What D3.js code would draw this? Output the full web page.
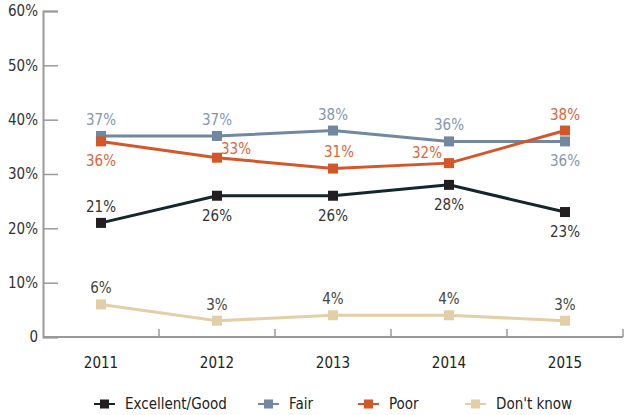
<!DOCTYPE html>
<html>
<head>
<meta charset="utf-8">
<script src="https://cdn.jsdelivr.net/npm/d3@7"></script>
<style>
  body { margin: 0; background: #fff; }
  svg text { font-family: "DejaVu Sans Condensed", "DejaVu Sans", sans-serif; font-stretch: condensed; }
</style>
</head>
<body>
<div id="chart"></div>
<script>
const years = ["2011", "2012", "2013", "2014", "2015"];
const seriesNames = ["Excellent/Good", "Fair", "Poor", "Don't know"];
const excellentGood = [21, 26, 26, 28, 23];
const fair = [37, 37, 38, 36, 36];
const poor = [36, 33, 31, 32, 38];
const dontKnow = [6, 3, 4, 4, 3];
const yTicks = [0, 10, 20, 30, 40, 50, 60];

// where each value label sits relative to its marker
const labelPlacement = {
    "Excellent/Good": ["above", "below", "below", "below", "below"],
    "Fair": ["above", "above", "above", "above", "below"],
    "Poor": ["below", "right", "aboveRight", "left", "above"],
    "Don't know": ["above", "above", "above", "above", "above"]
};

const seriesValues = [excellentGood, fair, poor, dontKnow];
const lineColors = ["#13262e", "#7188a0", "#d4572a", "#e3cfa7"];
const markerColors = ["#231f20", "#7188a0", "#d4572a", "#e3cfa7"];
const labelColors = ["#333333", "#8398ae", "#d9663c", "#444444"];

const width = 631, height = 415;
const margin = { top: 11, right: 8, bottom: 78, left: 43 };

const svg = d3.select("#chart").append("svg")
    .attr("width", width)
    .attr("height", height);

const x = d3.scaleBand()
    .domain(years)
    .range([margin.left, width - margin.right]);

const y = d3.scaleLinear()
    .domain([0, 60])
    .range([height - margin.bottom, margin.top]);

// y axis: ticks point inward
const yAxis = svg.append("g")
    .attr("transform", `translate(${margin.left},0)`)
    .call(d3.axisRight(y).tickValues(yTicks).tickSize(15).tickFormat(d => d === 0 ? "0" : d + "%"));
yAxis.select(".domain").attr("stroke", "#999").attr("stroke-width", 2);
yAxis.selectAll(".tick line").attr("stroke", "#999").attr("stroke-width", 1.5);
yAxis.selectAll(".tick text")
    .attr("x", -5)
    .attr("text-anchor", "end")
    .attr("fill", "#333")
    .style("font-size", "15px");

// x axis: ticks on band boundaries
const xAxisY = height - margin.bottom;
const xg = svg.append("g").attr("transform", `translate(0,${xAxisY})`);
xg.append("line")
    .attr("x1", margin.left).attr("x2", width - margin.right)
    .attr("stroke", "#999").attr("stroke-width", 2);
xg.selectAll(".xtick")
    .data(years)
    .enter().append("line")
    .attr("x1", d => x(d) + x.bandwidth())
    .attr("x2", d => x(d) + x.bandwidth())
    .attr("y1", 0).attr("y2", -8)
    .attr("stroke", "#999").attr("stroke-width", 1.5);
xg.selectAll(".xlabel")
    .data(years)
    .enter().append("text")
    .attr("x", d => x(d) + x.bandwidth() / 2)
    .attr("y", 31)
    .attr("text-anchor", "middle")
    .attr("fill", "#222")
    .style("font-size", "15px")
    .text(d => d);

const cx = d => x(d) + x.bandwidth() / 2;

const line = d3.line()
    .x(d => cx(d.year))
    .y(d => y(d.value));

const offsets = {
    above: [0, -11],
    below: [0, 25],
    right: [19, -4],
    aboveRight: [6, -12],
    left: [-22, -5]
};

seriesNames.forEach((name, i) => {
    const pts = years.map((yr, j) => ({ year: yr, value: seriesValues[i][j], place: labelPlacement[name][j] }));

    svg.append("path")
        .datum(pts)
        .attr("fill", "none")
        .attr("stroke", lineColors[i])
        .attr("stroke-width", 3)
        .attr("d", line);

    svg.selectAll(".m" + i)
        .data(pts)
        .enter().append("rect")
        .attr("x", d => cx(d.year) - 5)
        .attr("y", d => y(d.value) - 5)
        .attr("width", 10)
        .attr("height", 10)
        .attr("fill", markerColors[i]);

    svg.selectAll(".l" + i)
        .data(pts)
        .enter().append("text")
        .attr("x", d => cx(d.year) + offsets[d.place][0])
        .attr("y", d => y(d.value) + offsets[d.place][1])
        .attr("text-anchor", "middle")
        .attr("fill", labelColors[i])
        .style("font-size", "15px")
        .text(d => d.value + "%");
});

// legend
const legendX = [94, 258, 358, 465];
const legend = svg.append("g").attr("transform", `translate(0, 404)`);
seriesNames.forEach((name, i) => {
    const g = legend.append("g").attr("transform", `translate(${legendX[i]},0)`);
    g.append("line").attr("x1", 0).attr("x2", 21).attr("stroke", lineColors[i]).attr("stroke-width", 2);
    g.append("rect").attr("x", 6).attr("y", -4.5).attr("width", 9).attr("height", 9).attr("fill", markerColors[i]);
    g.append("text")
        .attr("x", 31)
        .attr("y", 5)
        .attr("fill", "#222")
        .style("font-size", "15px")
        .text(name);
});
</script>
</body>
</html>
